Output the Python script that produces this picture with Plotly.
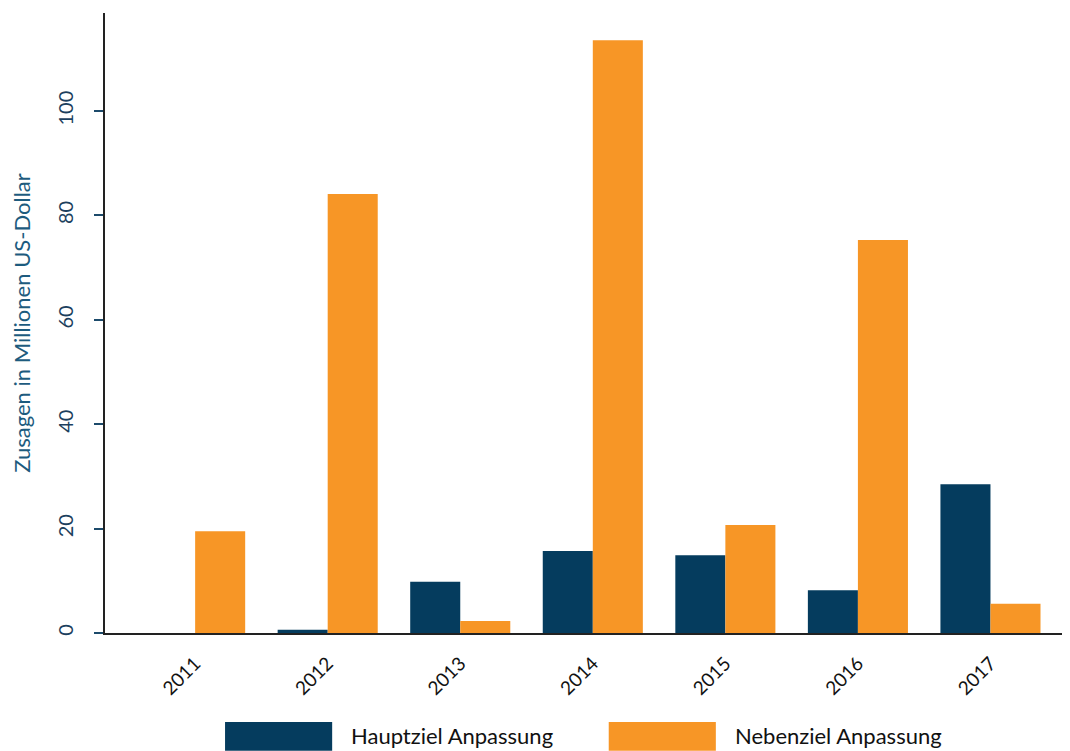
import plotly.graph_objects as go

years = ["2011", "2012", "2013", "2014", "2015", "2016", "2017"]
hauptziel = [0, 0.6, 9.8, 15.7, 14.9, 8.2, 28.5]
nebenziel = [19.5, 84.1, 2.3, 113.6, 20.7, 75.3, 5.6]
y_ticks = [0, 20, 40, 60, 80, 100]

NAVY = "#053c5e"
ORANGE = "#f79626"
FONT = "Lato"

x_idx = list(range(len(years)))

fig = go.Figure()
fig.add_trace(go.Bar(x=x_idx, y=hauptziel, name="Hauptziel Anpassung",
                     marker=dict(color=NAVY, line=dict(width=0)), showlegend=False))
fig.add_trace(go.Bar(x=x_idx, y=nebenziel, name="Nebenziel Anpassung",
                     marker=dict(color=ORANGE, line=dict(width=0)), showlegend=False))

fig.update_layout(
    width=1062, height=743,
    margin=dict(l=97, r=0, t=5, b=118, autoexpand=False),
    plot_bgcolor="white", paper_bgcolor="white",
    barmode="group", bargap=0.245, bargroupgap=0,
    font=dict(family=FONT, color="#111111"),
    xaxis=dict(
        range=[-0.68, 6.6], tickvals=x_idx, ticktext=years, tickangle=-45,
        showgrid=False, zeroline=False, showline=True, linecolor="#222222", linewidth=2,
        ticks="", tickfont=dict(size=19, color="#111111", family=FONT),
        ticklabelstandoff=10,
    ),
    yaxis=dict(
        range=[0, 118.8], tickvals=y_ticks, tickangle=-90,
        showgrid=False, zeroline=False, showline=True, linecolor="#222222", linewidth=2,
        ticks="outside", ticklen=9, tickcolor="#1c4a6b", tickwidth=1.5,
        tickfont=dict(size=20, color="#1c3f5e", family=FONT),
        ticklabelstandoff=13,
        title=dict(text="Zusagen in Millionen US-Dollar", standoff=27,
                   font=dict(size=22, color="#1d5b7e", family=FONT)),
    ),
)

# legend drawn as swatches + labels beneath the plot
legend_items = [("Hauptziel Anpassung", NAVY, 0.1244, 0.2528),
                ("Nebenziel Anpassung", ORANGE, 0.522, 0.651)]
for label, color, x0, xt in legend_items:
    fig.add_shape(type="rect", xref="paper", yref="paper",
                  x0=x0, x1=x0 + 0.111, y0=-0.19, y1=-0.1435,
                  fillcolor=color, line=dict(width=0))
    fig.add_annotation(xref="paper", yref="paper", x=xt, y=-0.166,
                       text=label, showarrow=False, xanchor="left", yanchor="middle",
                       font=dict(size=22, color="#111111", family=FONT))

fig.write_html("out.html")
